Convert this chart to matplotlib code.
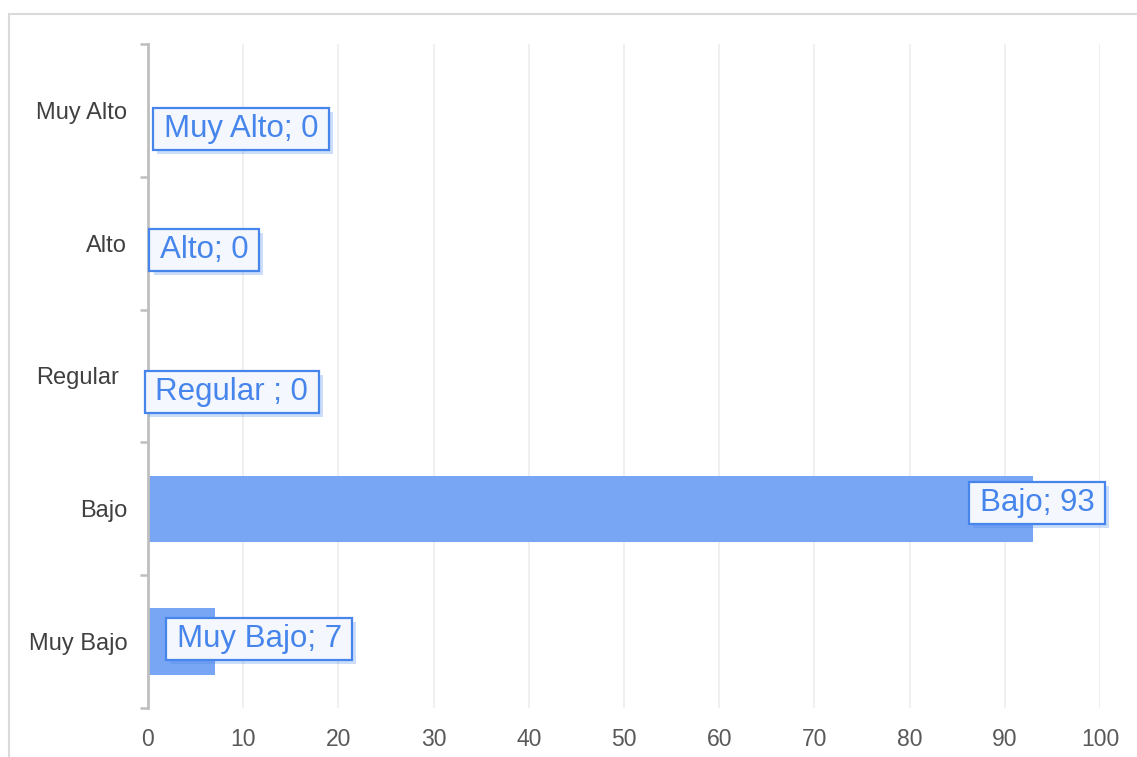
import matplotlib
matplotlib.use("Agg")
import matplotlib.pyplot as plt
import matplotlib.patheffects as pe
from matplotlib.patches import Rectangle
from matplotlib.transforms import ScaledTranslation, IdentityTransform

plt.rcParams["font.family"] = ["Liberation Sans", "DejaVu Sans"]

categories = ["Muy Bajo", "Bajo", "Regular", "Alto", "Muy Alto"]
values = [7, 93, 0, 0, 0]
label_texts = ["Muy Bajo; 7", "Bajo; 93", "Regular ; 0", "Alto; 0", "Muy Alto; 0"]
xticks = [0, 10, 20, 30, 40, 50, 60, 70, 80, 90, 100]

W, H = 1137, 757
fig = plt.figure(figsize=(W / 100, H / 100), dpi=100)
fig.patch.set_facecolor("white")

# outer border
fig.patches.append(Rectangle((9 / W, -0.05), 1.1, (H - 14) / H + 0.05, transform=fig.transFigure,
                             fill=False, edgecolor="#dadada", linewidth=1.5))

ax = fig.add_axes([148 / W, 1 - 708 / H, (1100 - 148) / W, (708 - 44) / H])
y = list(range(len(categories)))
ax.barh(y, values, height=0.5, color="#78a6f4", zorder=2)
ax.set_xlim(0, 100)
ax.set_ylim(-0.5, 4.5)
ax.set_xticks(xticks)
ax.set_xticklabels([str(t) for t in xticks], fontsize=16.5, color="#595959")
ax.tick_params(axis="x", length=0, pad=14.5)
ax.set_yticks(y)
ax.set_yticklabels(categories, fontsize=17, color="#404040")
ax.tick_params(axis="y", length=0, pad=15)
ax.set_yticks([i - 0.5 for i in range(len(categories) + 1)], minor=True)
ax.tick_params(axis="y", which="minor", length=6, width=1.8, color="#bfbfbf")
ax.grid(axis="x", color="#ececec", linewidth=1.2, zorder=0)
for s in ["top", "right", "bottom"]:
    ax.spines[s].set_visible(False)
ax.spines["left"].set_color("#bfbfbf")
ax.spines["left"].set_linewidth(2)
ax.set_axisbelow(True)

# Regular label sits slightly offset in the reference
for lab in ax.get_yticklabels():
    if lab.get_text() == "Regular":
        lab.set_transform(lab.get_transform() + ScaledTranslation(-0.08, 0.0, fig.dpi_scale_trans))

# data label box centres: (x centre in data units, y offset in category units)
label_pos = {0: (11.68, 0.02), 1: (93.38, 0.045), 2: (8.79, -0.118), 3: (5.9, -0.05), 4: (9.77, -0.137)}
texts = []
for i, txt in enumerate(label_texts):
    lx, dy = label_pos[i]
    t = ax.text(lx, i + dy, txt, ha="center", va="center",
                fontsize=22.5, color="#4685ec", zorder=6, clip_on=False)
    texts.append(t)

fig.canvas.draw()
renderer = fig.canvas.get_renderer()
for t in texts:
    bb = t.get_window_extent(renderer)
    padx, pady = 10.5, 6
    rect = Rectangle((bb.x0 - padx, bb.y0 - pady), bb.width + 2 * padx, bb.height + 2 * pady,
                     facecolor="#f4f7fd", edgecolor="#4685ec",
                     linewidth=1.6, zorder=5, clip_on=False)
    rect.set_path_effects([
        pe.SimplePatchShadow(offset=(3, -3), shadow_rgbFace="#4685ec", alpha=0.28),
        pe.Normal()])
    ax.add_artist(rect)
    rect.set_transform(IdentityTransform())

fig.savefig("out.png", dpi=100)
